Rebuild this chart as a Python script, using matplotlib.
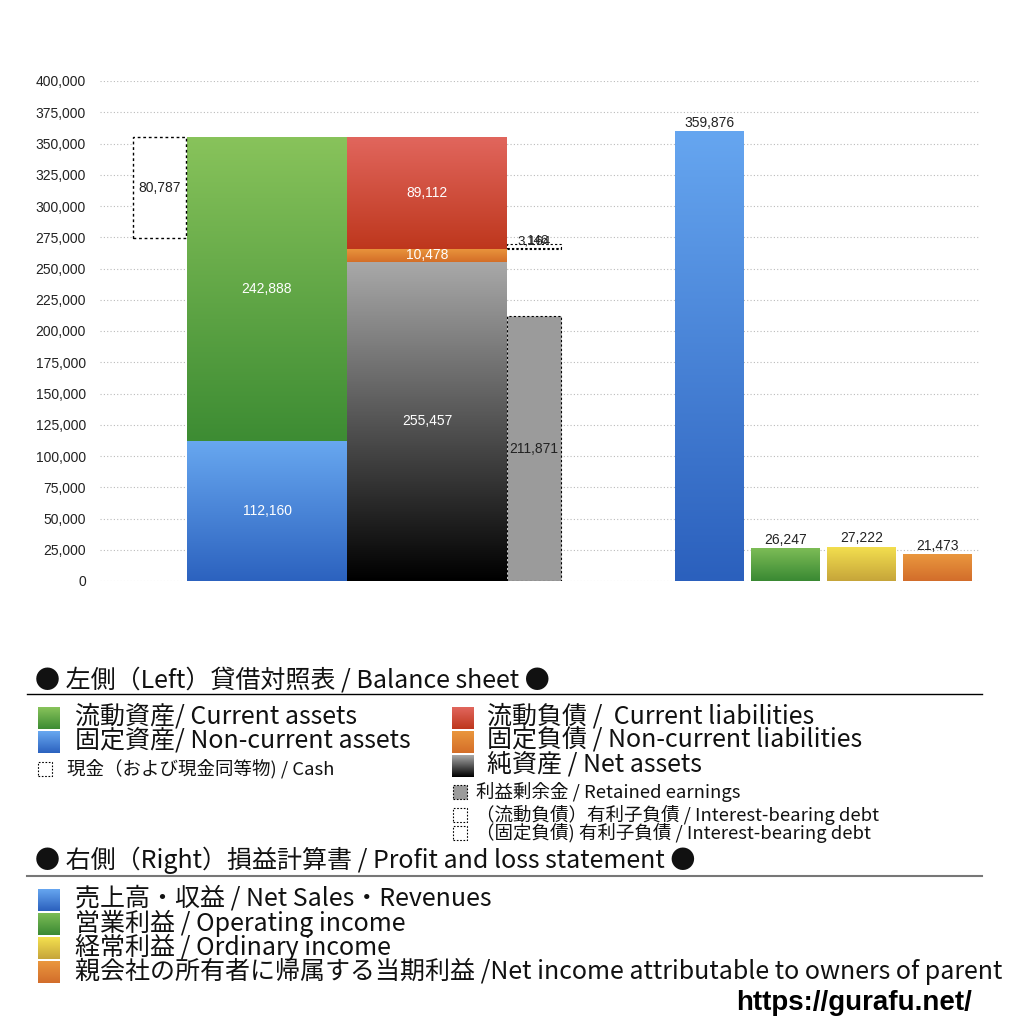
import numpy as np
import matplotlib

matplotlib.use('Agg')
import matplotlib.pyplot as plt
from matplotlib.colors import LinearSegmentedColormap

plt.rcParams['font.family'] = ['Liberation Sans', 'Noto Sans CJK JP', 'DejaVu Sans']
LEG_FONT = ['Noto Sans CJK JP', 'DejaVu Sans']

# balance sheet (left)
current_assets = 242888
noncurrent_assets = 112160
cash = 80787
current_liabilities = 89112
noncurrent_liabilities = 10478
net_assets = 255457
retained_earnings = 211871
debt_noncurrent = 146
debt_current = 3164

# profit and loss (right)
pl_names = ['売上高・収益', '営業利益', '経常利益', '親会社株主に帰属する当期純利益']
pl_values = [359876, 26247, 27222, 21473]

y_ticks = np.arange(0, 400001, 25000)

# colours (top, bottom) for the gradients
c_current_assets = ('#88c35b', '#3d8c33')
c_noncurrent_assets = ('#68a8f0', '#2c62bf')
c_current_liab = ('#e1665d', '#be371d')
c_noncurrent_liab = ('#ea963d', '#d46e28')
c_net_assets = ('#a9a9a9', '#000000')
pl_colors = [('#66a6f0', '#2b60bd'), ('#7cbc56', '#3a8933'),
             ('#f4e04f', '#c6a53a'), ('#ea973e', '#d26d2b')]


def fmt(v):
    return f'{v:,}'


def grad_bar(ax, x, h, w, colors, bottom=0):
    bar = ax.bar(x, h, w, bottom=bottom, color='none', linewidth=0, zorder=2)[0]
    cmap = LinearSegmentedColormap.from_list('g', [colors[1], colors[0]])
    grad = np.linspace(0, 1, 256).reshape(-1, 1)
    im = ax.imshow(grad, cmap=cmap, aspect='auto', origin='lower',
                   extent=[x - w / 2, x + w / 2, bottom, bottom + h], zorder=2)
    im.set_clip_path(bar)
    return bar


fig = plt.figure(figsize=(10.24, 10.24), dpi=100)
ax = fig.add_axes([100 / 1024, 1 - 581 / 1024, 880 / 1024, 500 / 1024])

VFS = 10

# left side: assets
grad_bar(ax, 167, noncurrent_assets, 160, c_noncurrent_assets)
grad_bar(ax, 167, current_assets, 160, c_current_assets, bottom=noncurrent_assets)
total_assets = current_assets + noncurrent_assets
ax.bar(59.5, cash, 53, bottom=total_assets - cash, color='white', edgecolor='black',
       linestyle=(0, (2, 2)), linewidth=1, zorder=2)
ax.text(167, noncurrent_assets / 2, fmt(noncurrent_assets), color='white',
        ha='center', va='center', fontsize=VFS, zorder=5)
ax.text(167, noncurrent_assets + current_assets / 2, fmt(current_assets), color='white',
        ha='center', va='center', fontsize=VFS, zorder=5)
ax.text(59.5, total_assets - cash / 2, fmt(cash), color='#222222',
        ha='center', va='center', fontsize=VFS, zorder=5)

# left side: liabilities and net assets
grad_bar(ax, 327, net_assets, 160, c_net_assets)
grad_bar(ax, 327, noncurrent_liabilities, 160, c_noncurrent_liab, bottom=net_assets)
grad_bar(ax, 327, current_liabilities, 160, c_current_liab,
         bottom=net_assets + noncurrent_liabilities)
ax.text(327, net_assets / 2, fmt(net_assets), color='white',
        ha='center', va='center', fontsize=VFS, zorder=5)
ax.text(327, net_assets + noncurrent_liabilities / 2, fmt(noncurrent_liabilities),
        color='white', ha='center', va='center', fontsize=VFS, zorder=5)
ax.text(327, net_assets + noncurrent_liabilities + current_liabilities / 2,
        fmt(current_liabilities), color='white', ha='center', va='center',
        fontsize=VFS, zorder=5)

ax.bar(434, retained_earnings, 54, color='#9b9b9b', edgecolor='black',
       linestyle=(0, (2, 2)), linewidth=0.8, zorder=2)
ax.text(434, retained_earnings / 2, fmt(retained_earnings), color='#222222',
        ha='center', va='center', fontsize=VFS, zorder=5)

debt_base = net_assets + noncurrent_liabilities
ax.bar(434, debt_noncurrent, 54, bottom=debt_base, color='white', edgecolor='black',
       linestyle=(0, (2, 2)), linewidth=0.8, zorder=2)
ax.bar(434, debt_current, 54, bottom=debt_base + debt_noncurrent, color='white',
       edgecolor='black', linestyle=(0, (2, 2)), linewidth=0.8, zorder=2)
ax.text(434, debt_base + 6000, fmt(debt_current), color='#222222',
        ha='center', va='center', fontsize=9.5, zorder=5)
ax.text(438, debt_base + 6000, fmt(debt_noncurrent), color='#222222',
        ha='center', va='center', fontsize=9.5, zorder=5)

# right side: profit and loss
pl_x = [609.5, 685.5, 761.5, 837.5]
for x, v, c in zip(pl_x, pl_values, pl_colors):
    grad_bar(ax, x, v, 69, c)
    ax.text(x, v + 1200, fmt(v), color='#222222', ha='center', va='bottom',
            fontsize=VFS, zorder=5)

ax.set_xlim(0, 880)
ax.set_ylim(0, 400000)
ax.set_xticks([])
ax.set_yticks(y_ticks)
ax.set_yticklabels([fmt(t) for t in y_ticks], fontsize=10, color='#222222')
ax.tick_params(axis='y', length=0, pad=10)
ax.grid(axis='y', color='#bbbbbb', linestyle=(0, (1, 2)), linewidth=0.8, zorder=0)
ax.set_axisbelow(True)
for s in ax.spines.values():
    s.set_visible(False)


# legend area
def fy(py):
    return 1 - py / 1024


def swatch(px, py, size, colors=None, dotted=False, fill=None):
    x0, y0 = px / 1024, fy(py + size / 2)
    w, h = size / 1024, size / 1024
    if dotted:
        r = plt.Rectangle((x0, y0), w, h, transform=fig.transFigure,
                          facecolor=fill or 'white', edgecolor='black',
                          linestyle=(0, (1.5, 1.5)), linewidth=0.8)
        fig.add_artist(r)
        return
    sax = fig.add_axes([x0, y0, w, h])
    cmap = LinearSegmentedColormap.from_list('s', [colors[1], colors[0]])
    sax.imshow(np.linspace(0, 1, 64).reshape(-1, 1), cmap=cmap, aspect='auto',
               origin='lower')
    sax.axis('off')


def legtext(px, py, s, size):
    fig.text(px / 1024, fy(py), s, fontsize=size, va='center', ha='left',
             family=LEG_FONT, color='#111111')


BIG = 18
SMALL = 13.3

legtext(35, 680, '● 左側（Left）貸借対照表 / Balance sheet ●', BIG)
fig.add_artist(plt.Line2D([27 / 1024, 982 / 1024], [fy(694), fy(694)],
                          transform=fig.transFigure, color='black', linewidth=1))

swatch(38, 718, 22, c_current_assets)
legtext(75, 717, '流動資産/ Current assets', BIG)
swatch(38, 742, 22, c_noncurrent_assets)
legtext(75, 741, '固定資産/ Non-current assets', BIG)
swatch(38, 769, 14, dotted=True)
legtext(67, 769, '現金（および現金同等物) / Cash', SMALL)

swatch(452, 718, 22, c_current_liab)
legtext(487, 717, '流動負債 /  Current liabilities', BIG)
swatch(452, 742, 22, c_noncurrent_liab)
legtext(487, 741, '固定負債 / Non-current liabilities', BIG)
swatch(452, 766, 22, c_net_assets)
legtext(487, 765, '純資産 / Net assets', BIG)
swatch(453, 792, 14, dotted=True, fill='#9b9b9b')
legtext(476, 792, '利益剰余金 / Retained earnings', SMALL)
swatch(453, 815, 14, dotted=True)
legtext(476, 815, '（流動負債）有利子負債 / Interest-bearing debt', SMALL)
swatch(453, 833, 14, dotted=True)
legtext(476, 833, '（固定負債) 有利子負債 / Interest-bearing debt', SMALL)

legtext(35, 860, '● 右側（Right）損益計算書 / Profit and loss statement ●', BIG)
fig.add_artist(plt.Line2D([27 / 1024, 982 / 1024], [fy(876), fy(876)],
                          transform=fig.transFigure, color='#777777', linewidth=1.5))

pl_legend = ['売上高・収益 / Net Sales・Revenues', '営業利益 / Operating income',
             '経常利益 / Ordinary income',
             '親会社の所有者に帰属する当期利益 /Net income attributable to owners of parent']
for i, (lab, c) in enumerate(zip(pl_legend, pl_colors)):
    py = 900 + 24 * i
    swatch(38, py, 22, c)
    legtext(75, py - 1, lab, BIG)

fig.text(972 / 1024, fy(1003), 'https://gurafu.net/', fontsize=20, fontweight='bold',
         ha='right', va='center')

fig.savefig('out.png', dpi=100, facecolor='white')
